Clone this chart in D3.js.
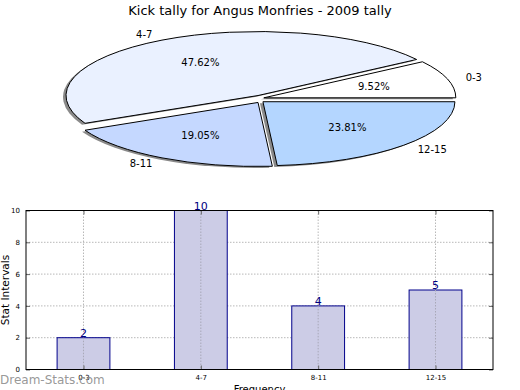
<!DOCTYPE html>
<html>
<head>
<meta charset="utf-8">
<script src="https://cdn.jsdelivr.net/npm/d3@7"></script>
<style>
  body { margin: 0; background: #fff; }
  svg { display: block; font-family: "DejaVu Sans", sans-serif; }
</style>
</head>
<body>
<div id="chart"></div>
<script>
const title = "Kick tally for Angus Monfries - 2009 tally"
const categories = ["0-3", "4-7", "8-11", "12-15"]
const counts = [2, 10, 4, 5]
const sliceColors = ["#ffffff", "#eaf1ff", "#c5d8ff", "#b4d6ff"]
const yTicks = [0, 2, 4, 6, 8, 10]

const width = 520
const height = 390

const svg = d3.select("#chart")
  .append("svg")
    .attr("width", width)
    .attr("height", height)

svg.append("text")
  .attr("x", 260)
  .attr("y", 15)
  .attr("text-anchor", "middle")
  .style("font-size", "13px")
  .text(title)

// ---- pie (squashed to an ellipse, slices pulled out a little) ----
const pc = {x: 260, y: 99, rx: 192, ry: 64}
const explode = 4
const total = d3.sum(counts)

// start at 3 o'clock, go counter clockwise
const arcs = d3.pie().sort(null)
  .startAngle(Math.PI / 2)
  .endAngle(Math.PI / 2 - 2 * Math.PI)(counts)

const pt = (a, r) => [pc.rx * r * Math.sin(a), -pc.ry * r * Math.cos(a)]

const slicePath = (d) => {
  const p0 = pt(d.startAngle, 1)
  const p1 = pt(d.endAngle, 1)
  const large = Math.abs(d.endAngle - d.startAngle) > Math.PI ? 1 : 0
  return "M0,0L" + p0[0] + "," + p0[1] +
    "A" + pc.rx + "," + pc.ry + " 0 " + large + " 0 " + p1[0] + "," + p1[1] + "Z"
}

const shift = (d) => {
  const m = (d.startAngle + d.endAngle) / 2
  return [explode * Math.sin(m), -explode * Math.cos(m)]
}

const pie = svg.append("g")
  .attr("transform", "translate(" + pc.x + "," + pc.y + ")")

// shadows first, under every wedge
pie.selectAll(".shadow")
  .data(arcs)
  .join("path")
    .attr("class", "shadow")
    .attr("d", slicePath)
    .attr("fill", "#8a8a8a")
    .attr("transform", d => {
      const s = shift(d)
      return "translate(" + (s[0] - 3) + "," + (s[1] + 1.5) + ")"
    })

pie.selectAll(".slice")
  .data(arcs)
  .join("path")
    .attr("class", "slice")
    .attr("d", slicePath)
    .attr("fill", (d, i) => sliceColors[i])
    .attr("stroke", "#000")
    .attr("stroke-width", 1)
    .attr("stroke-linejoin", "round")
    .attr("transform", d => "translate(" + shift(d) + ")")

pie.selectAll(".plabel")
  .data(arcs)
  .join("text")
    .attr("class", "plabel")
    .each(function (d, i) {
      const m = (d.startAngle + d.endAngle) / 2
      const s = shift(d)
      const p = pt(m, 1.1)
      d3.select(this)
        .attr("x", p[0] + s[0])
        .attr("y", p[1] + s[1])
        .attr("text-anchor", Math.sin(m) > 0 ? "start" : "end")
    })
    .attr("dy", "0.35em")
    .style("font-size", "10px")
    .text((d, i) => categories[i])

pie.selectAll(".pct")
  .data(arcs)
  .join("text")
    .attr("class", "pct")
    .each(function (d) {
      const m = (d.startAngle + d.endAngle) / 2
      const s = shift(d)
      const p = pt(m, 0.6)
      d3.select(this).attr("x", p[0] + s[0]).attr("y", p[1] + s[1])
    })
    .attr("dy", "0.35em")
    .attr("text-anchor", "middle")
    .style("font-size", "10px")
    .text(d => d3.format(".2f")(d.value / total * 100) + "%")

// ---- bar chart ----
const box = {left: 26, right: 493, top: 210.5, bottom: 369.5}

const x = d3.scaleLinear().domain([-0.49, 3.49]).range([box.left, box.right])
const y = d3.scaleLinear().domain([0, 10]).range([box.bottom, box.top])
const barW = 0.45

const plot = svg.append("g")

// dotted grid
plot.selectAll(".hgrid")
  .data(yTicks)
  .join("line")
    .attr("x1", box.left).attr("x2", box.right)
    .attr("y1", d => y(d)).attr("y2", d => y(d))
    .attr("stroke", "#b8b8b8")
    .attr("stroke-dasharray", "1.5,1.5")

plot.selectAll(".vgrid")
  .data(categories)
  .join("line")
    .attr("x1", (d, i) => x(i)).attr("x2", (d, i) => x(i))
    .attr("y1", box.top).attr("y2", box.bottom)
    .attr("stroke", "#b8b8b8")
    .attr("stroke-dasharray", "1.5,1.5")

plot.selectAll(".bar")
  .data(counts)
  .join("rect")
    .attr("x", (d, i) => x(i - barW / 2))
    .attr("width", x(barW) - x(0))
    .attr("y", d => y(d))
    .attr("height", d => y(0) - y(d))
    .attr("fill", "#ccccE6")
    .attr("stroke", "#00008b")
    .attr("stroke-width", 1)

// grid shows through the bars
plot.selectAll(".vgrid2")
  .data(categories)
  .join("line")
    .attr("x1", (d, i) => x(i)).attr("x2", (d, i) => x(i))
    .attr("y1", (d, i) => y(counts[i])).attr("y2", box.bottom)
    .attr("stroke", "#a8a8b8")
    .attr("stroke-dasharray", "1.5,1.5")

plot.selectAll(".val")
  .data(counts)
  .join("text")
    .attr("x", (d, i) => x(i))
    .attr("y", d => y(d) - 1)
    .attr("text-anchor", "middle")
    .attr("fill", "#000080")
    .style("font-size", "11px")
    .text(d => d)

// axes, ticks pointing inwards
const yAxis = d3.axisLeft(y).tickValues(yTicks).tickSize(-4).tickPadding(6)
const yAxisR = d3.axisRight(y).tickValues(yTicks).tickSize(-4).tickFormat("")
const xAxis = d3.axisBottom(x).tickValues(d3.range(categories.length))
  .tickSize(-4).tickPadding(6).tickFormat(i => categories[i])
const xAxisT = d3.axisTop(x).tickValues(d3.range(categories.length))
  .tickSize(-4).tickFormat("")

const styleAxis = g => {
  g.select(".domain").remove()
  g.selectAll(".tick line").attr("stroke", "#666")
  g.selectAll(".tick text").style("font-size", "7px").style("font-family", "DejaVu Sans")
}

svg.append("g").attr("transform", "translate(" + box.left + ",0)").call(yAxis).call(styleAxis)
svg.append("g").attr("transform", "translate(" + box.right + ",0)").call(yAxisR).call(styleAxis)
svg.append("g").attr("transform", "translate(0," + box.bottom + ")").call(xAxis).call(styleAxis)
svg.append("g").attr("transform", "translate(0," + box.top + ")").call(xAxisT).call(styleAxis)

svg.append("rect")
  .attr("x", box.left)
  .attr("y", box.top)
  .attr("width", box.right - box.left)
  .attr("height", box.bottom - box.top)
  .attr("fill", "none")
  .attr("stroke", "#000")
  .attr("stroke-width", 1)

svg.append("text")
  .attr("x", (box.left + box.right) / 2)
  .attr("y", 393)
  .attr("text-anchor", "middle")
  .style("font-size", "10px")
  .text("Frequency")

svg.append("text")
  .attr("transform", "translate(9," + (box.top + box.bottom) / 2 + ") rotate(-90)")
  .attr("text-anchor", "middle")
  .style("font-size", "10.5px")
  .text("Stat Intervals")

// watermark
svg.append("text")
  .attr("x", 0)
  .attr("y", 384)
  .attr("fill", "#8c8c8c")
  .attr("fill-opacity", 0.9)
  .style("font-size", "12px")
  .text("Dream-Stats.com")
</script>
</body>
</html>
